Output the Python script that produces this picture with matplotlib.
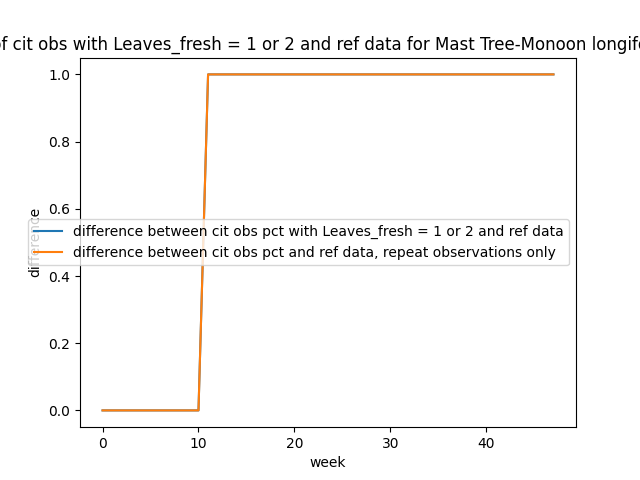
import matplotlib
matplotlib.use("Agg")
import matplotlib.pyplot as plt

weeks = list(range(48))
diff_all = [0.0] * 11 + [1.0] * 37
diff_repeat = [0.0] * 11 + [1.0] * 37

fig, ax = plt.subplots(figsize=(6.4, 4.8), dpi=100)
ax.plot(weeks, diff_all, label="difference between cit obs pct with Leaves_fresh = 1 or 2 and ref data")
ax.plot(weeks, diff_repeat, label="difference between cit obs pct and ref data, repeat observations only")
ax.set_title("Difference of cit obs with Leaves_fresh = 1 or 2 and ref data for Mast Tree-Monoon longifolia (all years)")
ax.set_xlabel("week")
ax.set_ylabel("difference")
ax.legend()
fig.savefig("out.png")
